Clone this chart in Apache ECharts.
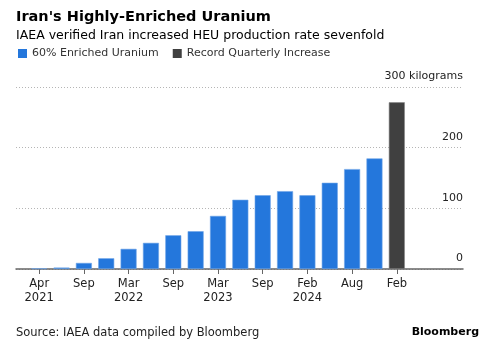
<!DOCTYPE html>
<html>
<head>
<meta charset="utf-8">
<title>Iran's Highly-Enriched Uranium</title>
<script src="https://cdn.jsdelivr.net/npm/echarts@6/dist/echarts.min.js"></script>
<style>
  html, body { margin: 0; padding: 0; background: #fff; }
  #chart { width: 485px; height: 354px; }
</style>
</head>
<body>
<div id="chart"></div>
<script>
// IAEA report dates and stockpile of 60% enriched uranium (kg)
const categories = ['Apr 2021', 'May 2021', 'Sep 2021', 'Nov 2021', 'Mar 2022', 'May 2022',
  'Sep 2022', 'Nov 2022', 'Mar 2023', 'May 2023', 'Sep 2023', 'Nov 2023', 'Feb 2024',
  'May 2024', 'Aug 2024', 'Oct 2024', 'Feb 2025'];
const enriched = [1, 2.4, 10, 17.7, 33.2, 43.1, 55.6, 62.3, 87.5, 114.1, 121.6, 128.3,
  121.5, 142.1, 164.7, 182.3];
const recordIncrease = [274.8];
// labels shown under every second bar
const tickLabels = ['Apr\n2021', 'Sep', 'Mar\n2022', 'Sep', 'Mar\n2023', 'Sep', 'Feb\n2024', 'Aug', 'Feb'];
const yTicks = [0, 100, 200, 300];

const font = 'DejaVu Sans';
const blue = '#2477dc';
const dark = '#404040';

let blueData = categories.map((c, i) => i < enriched.length ? enriched[i] : '-');
let darkData = categories.map((c, i) => i >= enriched.length ? recordIncrease[i - enriched.length] : '-');

let chart = echarts.init(document.getElementById('chart'));
let option = {
  animation: false,
  textStyle: { fontFamily: font },
  title: [{
    text: "Iran's Highly-Enriched Uranium",
    left: 11, top: 5,
    textStyle: { fontFamily: font, fontSize: 14.5, fontWeight: 'bold', color: '#000' }
  }, {
    text: 'IAEA verified Iran increased HEU production rate sevenfold',
    left: 11, top: 24,
    textStyle: { fontFamily: font, fontSize: 12.5, fontWeight: 'normal', color: '#000' }
  }, {
    text: 'Source: IAEA data compiled by Bloomberg',
    left: 11, top: 322,
    textStyle: { fontFamily: font, fontSize: 11.5, fontWeight: 'normal', color: '#222' }
  }, {
    text: 'Bloomberg',
    right: 1, top: 322,
    textStyle: { fontFamily: font, fontSize: 11, fontWeight: 'bold', color: '#000' }
  }],
  legend: {
    left: 13, top: 43,
    icon: 'rect', itemWidth: 9, itemHeight: 9, itemGap: 14,
    itemStyle: { borderWidth: 0 },
    textStyle: { fontFamily: font, fontSize: 11, color: '#333' },
    data: ['60% Enriched Uranium', 'Record Quarterly Increase']
  },
  grid: [
    { left: 16, right: 22, top: 87, bottom: 85 },
    { left: 28, right: 77, top: 87, bottom: 85 }
  ],
  xAxis: [{
    gridIndex: 0, type: 'value', min: 0, max: 1,
    axisLine: { show: true, onZero: false, lineStyle: { color: '#666', width: 1.5 } },
    axisTick: { show: false }, axisLabel: { show: false }, splitLine: { show: false }
  }, {
    gridIndex: 1, type: 'category', data: categories,
    axisLine: { show: false },
    axisTick: { show: true, interval: 1, alignWithLabel: true, length: 5, lineStyle: { color: '#666' } },
    axisLabel: {
      interval: 1, margin: 8, color: '#222', fontSize: 11.5, fontFamily: font, lineHeight: 14,
      formatter: (v, i) => i % 2 === 0 ? tickLabels[i / 2] : ''
    }
  }],
  yAxis: [{
    gridIndex: 0, type: 'value', position: 'right',
    min: yTicks[0], max: yTicks[yTicks.length - 1], interval: 100,
    axisLine: { show: false }, axisTick: { show: false },
    axisLabel: {
      inside: true, margin: 0, color: '#222', fontSize: 11, fontFamily: font,
      verticalAlign: 'bottom', padding: [0, 0, 5, 0],
      formatter: v => v === 300 ? '300 kilograms' : String(v)
    },
    splitLine: { show: true, lineStyle: { color: '#b5b5b5', type: [1, 2], width: 1 } }
  }, {
    gridIndex: 1, type: 'value', min: 0, max: 300,
    show: false, splitLine: { show: false }
  }],
  series: [{
    name: '60% Enriched Uranium', type: 'bar', xAxisIndex: 1, yAxisIndex: 1,
    data: blueData, barWidth: 16, barGap: '-100%',
    itemStyle: { color: blue, borderColor: '#6fa5e8', borderWidth: 0.6 }
  }, {
    name: 'Record Quarterly Increase', type: 'bar', xAxisIndex: 1, yAxisIndex: 1,
    data: darkData, barWidth: 16, barGap: '-100%',
    itemStyle: { color: dark, borderColor: '#888', borderWidth: 0.6 }
  }]
};
chart.setOption(option);
</script>
</body>
</html>
